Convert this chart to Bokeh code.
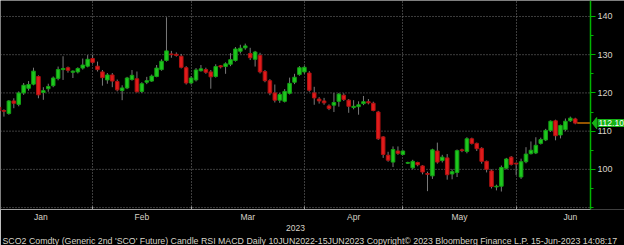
import numpy as np
from bokeh.plotting import figure
from bokeh.models import (Range1d, FixedTicker, LinearAxis, CustomJSTickFormatter,
                          Title, Label, ColumnDataSource)
from bokeh.embed import file_html
from bokeh.resources import INLINE

# ---- data (daily candles, Jan..mid-Jun 2023) ----
open_ = [116.3, 115.4, 114.6, 117.9, 117.0, 120.0, 121.2, 122.3, 124.3, 120.1,
         121.1, 121.9, 123.8, 126.1, 126.6, 125.4, 125.5, 126.5, 127.0, 129.0,
         127.0, 125.5, 123.4, 124.7, 123.0, 120.6, 121.3, 123.5, 123.7, 120.4,
         122.8, 123.1, 124.3, 126.1, 128.5, 130.2, 130.1, 129.6, 126.6, 122.6,
         123.4, 125.8, 126.1, 125.5, 124.3, 127.1, 126.9, 127.5, 128.5, 130.9,
         131.8, 130.3, 128.8, 129.8, 125.6, 123.2, 120.0, 118.1, 117.8, 119.9,
         122.8, 124.8, 125.5, 125.2, 120.0, 118.4, 117.9, 116.6, 116.8, 117.8,
         119.4, 118.1, 116.2, 116.4, 117.2, 117.7, 117.3, 115.0, 108.5, 103.7,
         101.9, 104.8, 103.9, 101.6, 100.4, 101.8, 100.9, 98.9, 98.3, 104.8,
         102.3, 103.0, 98.8, 99.2, 105.1, 104.7, 108.0, 106.8, 105.5, 102.1,
         99.6, 95.4, 95.6, 100.3, 103.2, 101.6, 98.0, 102.0, 104.1, 104.3,
         106.8, 107.7, 110.2, 112.7, 109.0, 110.4, 112.7, 113.2]
high = [116.6, 115.7, 118.1, 118.6, 120.4, 122.6, 123.1, 126.6, 124.6, 121.5,
        122.4, 124.3, 126.9, 129.6, 126.9, 125.9, 126.7, 129.0, 129.9, 130.0,
        128.2, 126.0, 125.2, 125.2, 123.5, 122.0, 124.2, 126.0, 125.6, 122.8,
        124.2, 124.8, 127.3, 128.8, 139.8, 131.0, 130.6, 130.2, 127.0, 124.4,
        126.5, 127.3, 126.6, 126.0, 127.5, 127.3, 128.0, 130.4, 132.0, 132.6,
        132.9, 131.8, 131.0, 130.5, 126.0, 123.6, 122.2, 120.0, 121.0, 124.0,
        125.0, 127.0, 127.1, 125.7, 121.6, 118.9, 118.7, 117.0, 120.0, 120.0,
        119.9, 118.4, 118.1, 117.8, 119.2, 118.4, 117.7, 115.3, 108.7, 104.6,
        106.0, 106.0, 105.0, 102.0, 102.5, 102.0, 101.1, 99.4, 105.4, 107.0,
        103.8, 104.0, 100.0, 105.2, 105.4, 108.4, 108.3, 107.0, 105.8, 102.3,
        100.0, 96.0, 101.0, 103.0, 103.5, 101.8, 102.8, 105.8, 107.3, 108.4,
        108.3, 110.6, 112.8, 113.0, 111.7, 113.3, 113.8, 113.5]
low = [114.8, 113.8, 114.3, 116.0, 116.5, 119.5, 120.6, 122.0, 118.6, 118.2,
       120.3, 121.5, 123.3, 123.4, 125.3, 123.9, 125.1, 126.1, 126.7, 127.6,
       125.6, 121.9, 122.4, 121.5, 120.4, 118.1, 121.0, 123.2, 120.1, 120.0,
       122.3, 122.9, 124.1, 125.8, 128.2, 129.2, 129.5, 126.4, 122.2, 122.2,
       123.0, 125.6, 125.0, 121.1, 124.0, 126.4, 125.0, 127.0, 128.2, 130.3,
       131.3, 128.6, 126.9, 125.1, 122.8, 119.4, 117.5, 117.4, 117.5, 119.6,
       122.3, 124.5, 125.0, 120.3, 116.9, 117.2, 116.9, 115.5, 115.0, 116.4,
       117.9, 114.8, 115.7, 114.3, 116.8, 117.0, 115.2, 107.7, 103.0, 102.0,
       100.6, 103.8, 103.7, 101.4, 100.0, 100.8, 98.7, 94.3, 97.5, 101.5,
       101.8, 97.3, 97.4, 98.0, 104.5, 104.2, 106.5, 104.8, 101.5, 99.2,
       95.0, 94.5, 94.2, 100.0, 101.0, 98.5, 97.5, 101.6, 103.9, 104.0,
       106.5, 107.4, 109.8, 107.6, 108.1, 110.0, 112.4, 111.8]
close = [115.3, 115.2, 117.9, 117.3, 120.0, 122.0, 122.2, 125.7, 119.5, 120.6,
         121.7, 123.9, 126.1, 126.4, 125.9, 125.7, 126.4, 127.3, 128.8, 128.0,
         126.1, 124.0, 124.7, 123.1, 120.8, 121.3, 123.9, 124.6, 120.3, 122.4,
         123.2, 124.4, 126.5, 128.3, 131.0, 130.0, 129.8, 126.7, 122.6, 123.9,
         126.0, 126.3, 125.4, 124.2, 126.9, 126.8, 127.6, 128.7, 131.5, 131.7,
         132.3, 129.2, 130.7, 125.5, 123.2, 120.0, 118.1, 119.6, 120.4, 122.5,
         124.1, 126.6, 126.7, 120.7, 118.7, 117.9, 117.4, 115.9, 117.5, 119.7,
         118.3, 116.5, 116.5, 116.9, 117.7, 117.4, 115.4, 108.0, 103.9, 102.4,
         105.2, 104.2, 104.8, 101.8, 102.1, 101.2, 99.3, 98.7, 105.1, 101.9,
         103.2, 98.6, 99.4, 104.9, 104.9, 108.0, 106.8, 105.4, 102.1, 100.0,
         95.5, 95.6, 100.5, 102.7, 101.3, 101.4, 102.0, 104.0, 105.0, 106.3,
         107.8, 110.2, 112.6, 108.8, 111.5, 112.6, 113.4, 112.10]

month_labels = ["Jan", "Feb", "Mar", "Apr", "May", "Jun"]
month_start_idx = [-2, 19, 39, 62, 82, 105, 127]   # trading-day index of each month start
year_label = "2023"
y_major = [100, 110, 120, 130, 140]
y_minor = [90, 95, 105, 115, 125, 135]
y_grid = [90, 100, 110, 120, 130, 140]
caption = ("SCO2 Comdty (Generic 2nd 'SCO' Future) Candle RSI MACD  Daily "
           "10JUN2022-15JUN2023 Copyright\u00a9 2023 Bloomberg Finance L.P.  "
           "15-Jun-2023 14:08:17")

# ---- styles ----
BG = "#000000"
GREEN = "#1ec81e"
GREEN_EDGE = "#14a014"
RED = "#e01b1b"
RED_EDGE = "#b01212"
WICK = "#7a7a7a"
GRID = "#7a7a7a"
TXT = "#d8d4c8"
AXIS_GREEN = "#00b400"
TAG_GREEN = "#17b317"
FONT = "Liberation Sans"

n = len(close)
idx = np.arange(n)
o = np.array(open_); c = np.array(close)
up = c >= o
src = ColumnDataSource(dict(
    x=idx, top=np.maximum(o, c), bottom=np.minimum(o, c),
    high=np.array(high), low=np.array(low),
    fill=[GREEN if u else RED for u in up],
    edge=[GREEN_EDGE if u else RED_EDGE for u in up],
))

x_start, axis_x, x_end = 0.3, 120.1, 127.0   # frame spans the full width; price axis sits at axis_x
p = figure(width=624, height=245, x_range=Range1d(x_start, x_end),
           y_range=Range1d(89.5, 144.18), y_axis_location="right",
           output_backend="svg", toolbar_location=None,
           background_fill_color=BG, border_fill_color=BG,
           outline_line_color=None, min_border_left=0, min_border_top=0,
           min_border_right=0, min_border_bottom=35)

# grid
p.xgrid.ticker = FixedTicker(ticks=month_start_idx[1:-1])
p.xgrid.grid_line_color = GRID
p.xgrid.grid_line_dash = "1 2"
p.ygrid.visible = False
p.segment(x0=[x_start] * len(y_grid), y0=y_grid, x1=[axis_x] * len(y_grid), y1=y_grid,
          line_color=GRID, line_dash="1 2", line_width=1)

# candles
p.segment(x0="x", y0="low", x1="x", y1="high", source=src, line_color=WICK, line_width=1)
p.vbar(x="x", top="top", bottom="bottom", width=0.72, source=src,
       fill_color="fill", line_color="edge", line_width=1)

# last price line
p.segment(x0=[n - 1 + 0.4], y0=[close[-1]], x1=[axis_x], y1=[close[-1]],
          line_color="#c87000", line_width=1.5)

# right price axis, pinned at axis_x
ya = p.yaxis[0]
ya.fixed_location = axis_x
ya.ticker = FixedTicker(ticks=y_major, minor_ticks=y_minor)
ya.axis_line_color = AXIS_GREEN
ya.axis_line_width = 1.5
ya.major_tick_line_color = AXIS_GREEN
ya.minor_tick_line_color = AXIS_GREEN
ya.major_tick_in = 0
ya.major_tick_out = 5
ya.minor_tick_in = 0
ya.minor_tick_out = 3
ya.major_label_standoff = 2
ya.major_label_text_font = FONT
ya.major_label_text_font_size = "9px"
ya.major_label_text_color = TXT

# bottom month axis
mids = [(month_start_idx[i] + month_start_idx[i + 1]) / 2 for i in range(len(month_labels))]
xa = p.xaxis[0]
xa.bounds = (x_start, axis_x)
xa.ticker = FixedTicker(ticks=mids, minor_ticks=month_start_idx[1:-1])
xa.formatter = CustomJSTickFormatter(args=dict(pos=mids, labels=month_labels), code="""
    for (let i = 0; i < pos.length; i++) { if (Math.abs(pos[i] - tick) < 1e-6) return labels[i]; }
    return "";
""")
xa.axis_line_color = "#a0a0a0"
xa.major_tick_line_color = None
xa.major_tick_in = 0
xa.major_tick_out = 0
xa.minor_tick_line_color = "#a0a0a0"
xa.minor_tick_in = 3
xa.minor_tick_out = 0
xa.major_label_standoff = 2
xa.major_label_text_font = FONT
xa.major_label_text_font_size = "8.5px"
xa.major_label_text_color = TXT

# year axis
ycenter = (x_start + axis_x) / 2
yr = LinearAxis(ticker=FixedTicker(ticks=[ycenter]),
                formatter=CustomJSTickFormatter(args=dict(lab=year_label), code="return lab;"),
                axis_line_color=None, major_tick_line_color=None, minor_tick_line_color=None,
                major_tick_in=0, major_tick_out=0, major_label_standoff=0,
                major_label_text_font=FONT, major_label_text_font_size="8.5px",
                major_label_text_color=TXT)
p.add_layout(yr, "below")

# caption
p.add_layout(Title(text=caption, align="left", text_font=FONT, text_font_size="8.8px",
                   text_font_style="normal", text_color=TXT, standoff=0, offset=2), "below")

# last price tag (arrow + box)
p.patch(x=[axis_x + 0.35, axis_x + 1.25, axis_x + 1.25],
        y=[close[-1], close[-1] + 1.45, close[-1] - 1.45],
        fill_color=TAG_GREEN, line_color=TAG_GREEN)
p.add_layout(Label(x=597, y=close[-1], x_units="screen", y_units="data",
                   text=f"{close[-1]:.2f}", text_color="white", text_font=FONT,
                   text_font_size="8.5px", text_baseline="middle", text_align="left",
                   background_fill_color=TAG_GREEN, padding=1, level="overlay"))

open("out.html", "w").write(file_html(p, INLINE))
